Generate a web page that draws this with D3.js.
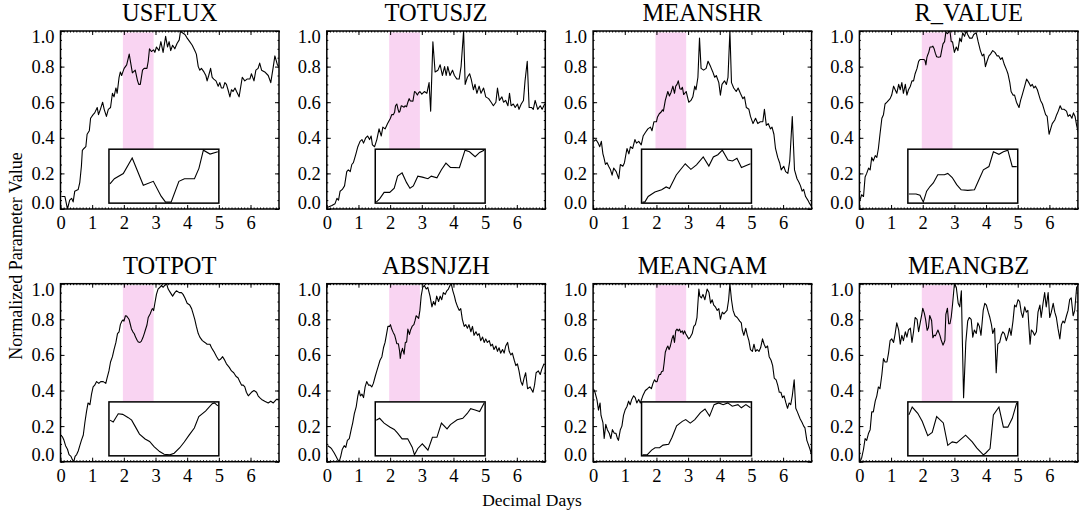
<!DOCTYPE html>
<html><head><meta charset="utf-8">
<script src="https://cdn.jsdelivr.net/npm/d3@7"></script>
<style>
body{margin:0;background:#fff}
svg{display:block}
text{font-family:"Liberation Serif","Times New Roman",Times,serif;fill:#000}
</style>
</head><body>
<script>
// ---------------- DATA ----------------
const parameters = ["USFLUX","TOTUSJZ","MEANSHR","R_VALUE","TOTPOT","ABSNJZH","MEANGAM","MEANGBZ"];
const xTicks = [0,1,2,3,4,5,6];
const yTicks = [0,0.2,0.4,0.6,0.8,1.0];
const xDomain = [0, 6.9];
const yDomain = [0, 1];
const shadeWindow = [1.97, 2.94];
const xLabel = "Decimal Days";
const yLabel = "Normalized Parameter Value";

// [decimal day, normalized value]
const usflux = [[0.03,0.07],[0.14,0.07],[0.22,0.0],[0.29,0.05],[0.35,0.06],[0.40,0.04],[0.45,0.10],[0.56,0.11],[0.61,0.15],[0.66,0.24],[0.69,0.33],[0.74,0.34],[0.80,0.35],[0.84,0.42],[0.91,0.44],[0.95,0.51],[1.03,0.53],[1.08,0.54],[1.16,0.57],[1.20,0.53],[1.26,0.56],[1.33,0.60],[1.38,0.56],[1.45,0.52],[1.51,0.56],[1.58,0.57],[1.64,0.65],[1.69,0.63],[1.75,0.68],[1.79,0.65],[1.85,0.74],[1.89,0.77],[1.93,0.75],
[1.97,0.77],[2.01,0.79],[2.09,0.81],[2.17,0.87],[2.27,0.765],[2.36,0.78],[2.43,0.723],[2.47,0.70],[2.52,0.70],[2.59,0.78],[2.64,0.79],[2.73,0.79],[2.77,0.83],[2.81,0.90],[2.87,0.885],[2.94,0.894],
[2.98,0.88],[3.03,0.91],[3.11,0.89],[3.17,0.94],[3.24,0.88],[3.32,0.97],[3.38,0.91],[3.43,0.94],[3.48,0.89],[3.54,0.92],[3.61,0.90],[3.68,0.93],[3.75,0.95],[3.79,1.00],[3.85,0.99],[3.93,0.98],[4.00,0.96],[4.08,0.94],[4.16,0.92],[4.24,0.89],[4.29,0.87],[4.35,0.80],[4.40,0.78],[4.45,0.79],[4.53,0.77],[4.59,0.75],[4.63,0.72],[4.68,0.75],[4.74,0.79],[4.79,0.74],[4.84,0.73],[4.91,0.72],[4.98,0.69],[5.03,0.71],[5.08,0.68],[5.14,0.68],[5.19,0.71],[5.24,0.70],[5.29,0.67],[5.35,0.63],[5.40,0.67],[5.45,0.66],[5.51,0.68],[5.56,0.66],[5.64,0.63],[5.74,0.74],[5.82,0.72],[5.89,0.73],[5.98,0.73],[6.03,0.76],[6.11,0.72],[6.17,0.78],[6.24,0.79],[6.29,0.82],[6.35,0.78],[6.45,0.77],[6.56,0.75],[6.64,0.71],[6.72,0.80],[6.77,0.86],[6.85,0.81],[6.90,0.80]];

const totusjz = [[0.03,0.01],[0.16,0.02],[0.26,0.03],[0.32,0.06],[0.37,0.05],[0.42,0.10],[0.49,0.11],[0.56,0.13],[0.63,0.21],[0.68,0.22],[0.74,0.21],[0.79,0.25],[0.84,0.26],[0.92,0.31],[0.98,0.35],[1.05,0.38],[1.11,0.39],[1.16,0.37],[1.23,0.40],[1.29,0.41],[1.35,0.39],[1.40,0.41],[1.44,0.36],[1.51,0.35],[1.58,0.39],[1.65,0.45],[1.72,0.41],[1.77,0.46],[1.84,0.45],[1.92,0.48],
[1.98,0.50],[2.01,0.51],[2.05,0.53],[2.10,0.53],[2.14,0.543],[2.17,0.58],[2.21,0.59],[2.25,0.56],[2.28,0.543],[2.31,0.55],[2.35,0.58],[2.39,0.577],[2.44,0.572],[2.47,0.58],[2.52,0.575],[2.56,0.60],[2.60,0.62],[2.64,0.607],[2.72,0.606],[2.77,0.66],[2.81,0.655],[2.86,0.64],[2.90,0.653],[2.94,0.66],
[3.00,0.645],[3.08,0.66],[3.16,0.65],[3.23,0.71],[3.28,0.55],[3.35,0.94],[3.42,0.77],[3.51,0.78],[3.58,0.81],[3.65,0.75],[3.72,0.80],[3.77,0.75],[3.82,0.80],[3.89,0.75],[3.97,0.78],[4.03,0.75],[4.11,0.73],[4.18,0.73],[4.24,0.80],[4.32,1.00],[4.37,0.70],[4.44,0.74],[4.51,0.76],[4.56,0.73],[4.63,0.67],[4.68,0.70],[4.74,0.65],[4.81,0.69],[4.87,0.65],[4.95,0.68],[5.02,0.63],[5.11,0.62],[5.19,0.60],[5.26,0.58],[5.34,0.60],[5.39,0.68],[5.45,0.61],[5.53,0.63],[5.58,0.60],[5.65,0.61],[5.72,0.58],[5.77,0.65],[5.82,0.58],[5.89,0.59],[5.95,0.57],[6.02,0.59],[6.07,0.56],[6.14,0.59],[6.21,0.61],[6.26,0.72],[6.33,0.83],[6.39,0.57],[6.47,0.57],[6.52,0.56],[6.58,0.61],[6.66,0.56],[6.74,0.58],[6.80,0.56],[6.88,0.59]];

const meanshr = [[0.02,0.38],[0.09,0.39],[0.16,0.37],[0.21,0.35],[0.26,0.38],[0.31,0.31],[0.34,0.29],[0.39,0.25],[0.44,0.26],[0.49,0.24],[0.55,0.22],[0.60,0.19],[0.65,0.23],[0.73,0.21],[0.81,0.17],[0.86,0.25],[0.94,0.24],[0.99,0.26],[1.07,0.34],[1.13,0.31],[1.18,0.35],[1.25,0.34],[1.32,0.39],[1.37,0.37],[1.44,0.38],[1.52,0.36],[1.58,0.41],[1.65,0.43],[1.73,0.45],[1.81,0.46],[1.86,0.44],[1.92,0.49],
[1.98,0.49],[2.00,0.49],[2.03,0.515],[2.09,0.535],[2.15,0.545],[2.19,0.557],[2.22,0.55],[2.28,0.61],[2.36,0.66],[2.41,0.635],[2.46,0.655],[2.52,0.69],[2.57,0.65],[2.61,0.69],[2.65,0.70],[2.69,0.72],[2.74,0.676],[2.78,0.672],[2.82,0.684],[2.86,0.643],[2.94,0.66],
[3.02,0.60],[3.09,0.61],[3.15,0.63],[3.21,0.69],[3.25,0.67],[3.31,0.74],[3.36,0.96],[3.41,0.79],[3.49,0.78],[3.57,0.79],[3.63,0.83],[3.71,0.80],[3.78,0.77],[3.84,0.74],[3.89,0.75],[3.97,0.71],[4.02,0.64],[4.07,0.70],[4.15,0.72],[4.21,0.70],[4.26,0.74],[4.32,1.00],[4.37,0.71],[4.44,0.68],[4.52,0.66],[4.58,0.68],[4.65,0.65],[4.73,0.62],[4.78,0.63],[4.84,0.57],[4.92,0.56],[4.97,0.52],[5.05,0.48],[5.13,0.51],[5.20,0.48],[5.28,0.49],[5.36,0.49],[5.41,0.56],[5.47,0.47],[5.53,0.48],[5.60,0.45],[5.65,0.46],[5.71,0.42],[5.76,0.34],[5.83,0.29],[5.89,0.26],[5.94,0.22],[6.02,0.24],[6.08,0.21],[6.15,0.20],[6.21,0.27],[6.29,0.52],[6.36,0.22],[6.44,0.17],[6.50,0.15],[6.55,0.13],[6.60,0.10],[6.65,0.11],[6.71,0.07],[6.78,0.05],[6.84,0.03],[6.90,0.015]];

const rValue = [[0.02,0.05],[0.07,0.08],[0.13,0.07],[0.18,0.18],[0.23,0.20],[0.29,0.23],[0.34,0.22],[0.39,0.29],[0.44,0.27],[0.50,0.30],[0.55,0.29],[0.60,0.34],[0.65,0.42],[0.71,0.51],[0.76,0.53],[0.81,0.59],[0.87,0.60],[0.92,0.61],[0.97,0.62],[1.02,0.64],[1.08,0.69],[1.13,0.67],[1.18,0.65],[1.24,0.70],[1.29,0.67],[1.34,0.71],[1.39,0.65],[1.45,0.70],[1.50,0.64],[1.55,0.67],[1.61,0.69],[1.66,0.72],[1.71,0.72],[1.76,0.76],[1.82,0.79],[1.87,0.83],[1.92,0.84],
[1.97,0.84],[2.035,0.84],[2.07,0.835],[2.10,0.81],[2.13,0.85],[2.16,0.867],[2.19,0.88],[2.23,0.91],[2.29,0.91],[2.32,0.915],[2.36,0.90],[2.40,0.874],[2.44,0.855],[2.50,0.853],[2.56,0.855],[2.60,0.892],[2.64,0.928],[2.69,0.94],[2.73,0.994],[2.78,0.985],[2.82,0.994],[2.86,1.0],[2.90,0.94],[2.94,0.94],
[3.00,0.88],[3.06,0.91],[3.11,0.89],[3.17,0.96],[3.22,0.94],[3.26,0.99],[3.32,0.97],[3.37,1.0],[3.42,0.98],[3.48,0.96],[3.56,0.96],[3.61,0.98],[3.69,0.99],[3.75,0.94],[3.82,0.89],[3.88,0.86],[3.93,0.87],[3.98,0.80],[4.03,0.83],[4.09,0.86],[4.14,0.87],[4.21,0.89],[4.28,0.88],[4.35,0.86],[4.40,0.86],[4.46,0.84],[4.51,0.85],[4.58,0.81],[4.65,0.78],[4.69,0.76],[4.75,0.71],[4.79,0.66],[4.85,0.64],[4.90,0.64],[4.96,0.60],[5.04,0.57],[5.09,0.61],[5.14,0.64],[5.22,0.69],[5.28,0.73],[5.35,0.71],[5.41,0.69],[5.46,0.70],[5.51,0.68],[5.56,0.69],[5.62,0.67],[5.67,0.64],[5.72,0.61],[5.78,0.59],[5.83,0.56],[5.88,0.53],[5.93,0.52],[5.99,0.42],[6.04,0.45],[6.09,0.48],[6.17,0.50],[6.23,0.53],[6.28,0.55],[6.34,0.58],[6.39,0.56],[6.46,0.56],[6.54,0.55],[6.59,0.52],[6.65,0.53],[6.71,0.51],[6.76,0.54],[6.81,0.52],[6.86,0.47],[6.94,0.41]];

const totpot = [[0.01,0.15],[0.06,0.14],[0.11,0.12],[0.16,0.09],[0.22,0.07],[0.27,0.04],[0.33,0.03],[0.38,0.01],[0.42,0.0],[0.46,0.03],[0.51,0.04],[0.56,0.06],[0.61,0.09],[0.66,0.12],[0.72,0.15],[0.77,0.22],[0.82,0.28],[0.87,0.33],[0.93,0.32],[0.98,0.38],[1.03,0.42],[1.08,0.43],[1.14,0.45],[1.21,0.44],[1.27,0.45],[1.35,0.45],[1.43,0.44],[1.47,0.47],[1.53,0.51],[1.58,0.56],[1.64,0.59],[1.69,0.63],[1.75,0.67],[1.80,0.72],[1.85,0.73],[1.89,0.77],[1.94,0.79],
[1.976,0.797],[2.005,0.79],[2.05,0.82],[2.09,0.818],[2.14,0.806],[2.17,0.797],[2.20,0.775],[2.24,0.746],[2.29,0.728],[2.33,0.719],[2.37,0.70],[2.42,0.682],[2.46,0.672],[2.51,0.67],[2.55,0.676],[2.60,0.696],[2.64,0.717],[2.68,0.74],[2.73,0.768],[2.77,0.81],[2.83,0.83],[2.89,0.857],[2.91,0.86],[2.94,0.849],
[2.98,0.89],[3.03,0.94],[3.08,0.97],[3.14,0.98],[3.19,0.99],[3.24,0.98],[3.29,0.99],[3.35,1.0],[3.40,0.97],[3.47,0.95],[3.54,0.93],[3.61,0.95],[3.66,0.96],[3.75,0.95],[3.82,0.95],[3.87,0.94],[3.93,0.92],[4.0,0.89],[4.08,0.88],[4.14,0.86],[4.19,0.83],[4.24,0.80],[4.29,0.76],[4.35,0.72],[4.40,0.70],[4.48,0.68],[4.56,0.67],[4.63,0.66],[4.72,0.66],[4.77,0.64],[4.84,0.62],[4.93,0.59],[5.0,0.57],[5.05,0.575],[5.12,0.59],[5.17,0.575],[5.24,0.55],[5.33,0.53],[5.40,0.51],[5.47,0.50],[5.54,0.48],[5.61,0.47],[5.66,0.45],[5.72,0.43],[5.77,0.43],[5.82,0.42],[5.87,0.39],[5.93,0.37],[5.98,0.38],[6.03,0.39],[6.11,0.40],[6.19,0.39],[6.24,0.37],[6.29,0.36],[6.35,0.35],[6.45,0.34],[6.56,0.33],[6.64,0.34],[6.72,0.33],[6.82,0.35],[6.89,0.35]];

const absnjzh = [[0.03,0.09],[0.11,0.08],[0.16,0.07],[0.23,0.05],[0.29,0.03],[0.35,0.01],[0.39,0.0],[0.44,0.03],[0.49,0.07],[0.55,0.09],[0.60,0.08],[0.65,0.12],[0.71,0.13],[0.77,0.18],[0.82,0.22],[0.87,0.27],[0.93,0.31],[0.98,0.37],[1.02,0.40],[1.06,0.37],[1.11,0.38],[1.16,0.36],[1.21,0.42],[1.26,0.45],[1.32,0.43],[1.37,0.43],[1.42,0.42],[1.47,0.44],[1.53,0.48],[1.58,0.51],[1.63,0.54],[1.68,0.57],[1.74,0.59],[1.79,0.64],[1.84,0.67],[1.89,0.72],[1.93,0.76],
[1.98,0.76],[2.01,0.77],[2.05,0.745],[2.10,0.725],[2.14,0.712],[2.17,0.693],[2.21,0.663],[2.26,0.663],[2.30,0.62],[2.32,0.58],[2.35,0.613],[2.39,0.637],[2.44,0.604],[2.48,0.671],[2.52,0.671],[2.56,0.745],[2.61,0.715],[2.64,0.737],[2.70,0.762],[2.75,0.77],[2.79,0.795],[2.82,0.82],[2.86,0.813],[2.90,0.805],[2.94,0.85],
[2.98,0.93],[3.03,0.98],[3.08,0.99],[3.14,0.97],[3.19,0.98],[3.26,0.93],[3.32,0.87],[3.37,0.90],[3.42,0.88],[3.47,0.93],[3.53,0.90],[3.58,0.93],[3.63,0.91],[3.68,0.95],[3.74,0.94],[3.79,0.96],[3.84,0.97],[3.89,0.99],[3.93,1.0],[3.98,0.96],[4.03,0.93],[4.07,0.90],[4.13,0.87],[4.18,0.85],[4.23,0.86],[4.28,0.80],[4.34,0.76],[4.39,0.77],[4.44,0.75],[4.49,0.77],[4.55,0.73],[4.60,0.76],[4.65,0.71],[4.71,0.73],[4.76,0.71],[4.81,0.72],[4.86,0.68],[4.92,0.70],[4.97,0.67],[5.02,0.69],[5.07,0.67],[5.13,0.68],[5.18,0.65],[5.23,0.66],[5.28,0.63],[5.34,0.65],[5.39,0.62],[5.44,0.64],[5.49,0.61],[5.55,0.63],[5.60,0.61],[5.65,0.65],[5.71,0.67],[5.76,0.62],[5.81,0.60],[5.86,0.61],[5.92,0.57],[5.97,0.54],[6.02,0.55],[6.07,0.51],[6.13,0.45],[6.18,0.43],[6.23,0.47],[6.28,0.50],[6.34,0.41],[6.42,0.42],[6.51,0.39],[6.56,0.43],[6.61,0.50],[6.68,0.51],[6.74,0.49],[6.79,0.52],[6.86,0.55]];

const meangam = [[0.01,0.41],[0.06,0.39],[0.12,0.35],[0.17,0.29],[0.22,0.33],[0.25,0.26],[0.31,0.22],[0.35,0.13],[0.40,0.21],[0.45,0.18],[0.51,0.16],[0.56,0.13],[0.61,0.18],[0.67,0.16],[0.72,0.16],[0.77,0.13],[0.80,0.12],[0.86,0.18],[0.91,0.20],[0.96,0.26],[1.01,0.29],[1.07,0.31],[1.12,0.34],[1.17,0.32],[1.22,0.35],[1.28,0.37],[1.33,0.36],[1.38,0.33],[1.44,0.35],[1.49,0.33],[1.57,0.37],[1.65,0.40],[1.72,0.41],[1.78,0.42],[1.84,0.41],[1.89,0.44],[1.94,0.46],
[1.98,0.45],[2.02,0.45],[2.06,0.477],[2.09,0.49],[2.13,0.49],[2.16,0.505],[2.21,0.51],[2.24,0.55],[2.28,0.615],[2.33,0.64],[2.36,0.65],[2.40,0.63],[2.44,0.65],[2.49,0.69],[2.53,0.71],[2.57,0.67],[2.61,0.735],[2.65,0.745],[2.69,0.735],[2.73,0.745],[2.77,0.726],[2.82,0.735],[2.85,0.717],[2.89,0.735],[2.93,0.717],
[3.02,0.69],[3.07,0.70],[3.13,0.72],[3.18,0.76],[3.23,0.77],[3.28,0.81],[3.34,0.97],[3.37,0.93],[3.42,0.92],[3.47,0.94],[3.53,0.91],[3.60,0.97],[3.66,0.95],[3.71,0.89],[3.76,0.91],[3.81,0.88],[3.86,0.87],[3.92,0.85],[3.97,0.86],[4.02,0.80],[4.08,0.84],[4.13,0.83],[4.18,0.84],[4.23,0.85],[4.28,0.91],[4.32,1.0],[4.37,0.91],[4.42,0.85],[4.48,0.82],[4.55,0.81],[4.63,0.79],[4.68,0.78],[4.71,0.74],[4.76,0.71],[4.82,0.75],[4.87,0.71],[4.92,0.68],[4.97,0.63],[5.03,0.62],[5.08,0.66],[5.13,0.62],[5.18,0.63],[5.24,0.62],[5.29,0.64],[5.35,0.69],[5.40,0.66],[5.45,0.64],[5.51,0.65],[5.56,0.59],[5.62,0.57],[5.67,0.54],[5.72,0.47],[5.78,0.46],[5.83,0.43],[5.88,0.39],[5.93,0.39],[5.98,0.36],[6.03,0.37],[6.09,0.33],[6.14,0.30],[6.19,0.33],[6.24,0.32],[6.29,0.37],[6.35,0.46],[6.40,0.30],[6.45,0.28],[6.54,0.24],[6.60,0.22],[6.65,0.20],[6.69,0.19],[6.75,0.12],[6.79,0.10],[6.85,0.07],[6.93,0.02]];

const meangbz = [[0.02,0.0],[0.07,0.02],[0.13,0.07],[0.18,0.13],[0.23,0.12],[0.29,0.16],[0.34,0.18],[0.39,0.28],[0.44,0.28],[0.50,0.34],[0.55,0.37],[0.60,0.42],[0.65,0.41],[0.71,0.49],[0.76,0.58],[0.81,0.56],[0.87,0.56],[0.92,0.61],[0.97,0.68],[1.02,0.69],[1.08,0.67],[1.13,0.72],[1.18,0.78],[1.24,0.74],[1.29,0.66],[1.34,0.71],[1.39,0.68],[1.45,0.73],[1.50,0.70],[1.55,0.74],[1.61,0.75],[1.66,0.67],[1.71,0.73],[1.76,0.81],[1.82,0.80],[1.87,0.73],[1.92,0.78],
[1.97,0.828],[2.0,0.862],[2.05,0.835],[2.09,0.80],[2.14,0.738],[2.18,0.752],[2.22,0.821],[2.28,0.793],[2.32,0.696],[2.36,0.711],[2.40,0.707],[2.48,0.74],[2.54,0.711],[2.58,0.685],[2.64,0.655],[2.66,0.662],[2.70,0.682],[2.73,0.828],[2.78,0.862],[2.82,0.775],[2.86,0.775],[2.90,0.813],[2.94,0.88],
[3.0,1.0],[3.06,0.98],[3.12,0.89],[3.17,0.87],[3.22,0.96],[3.25,0.69],[3.29,0.36],[3.36,0.67],[3.42,0.79],[3.47,0.81],[3.53,0.80],[3.58,0.70],[3.63,0.74],[3.69,0.72],[3.74,0.78],[3.79,0.76],[3.84,0.71],[3.91,0.85],[3.96,0.89],[4.01,0.88],[4.07,0.84],[4.12,0.81],[4.17,0.77],[4.21,0.72],[4.27,0.75],[4.32,0.50],[4.37,0.66],[4.43,0.67],[4.48,0.71],[4.53,0.73],[4.58,0.72],[4.64,0.68],[4.69,0.71],[4.74,0.75],[4.79,0.71],[4.85,0.79],[4.90,0.88],[4.95,0.87],[5.01,0.91],[5.06,0.90],[5.11,0.84],[5.16,0.81],[5.22,0.87],[5.27,0.84],[5.32,0.85],[5.39,0.66],[5.43,0.74],[5.48,0.73],[5.53,0.71],[5.59,0.73],[5.64,0.84],[5.70,0.88],[5.74,0.81],[5.80,0.89],[5.85,0.95],[5.90,0.87],[5.96,0.95],[6.01,0.81],[6.06,0.84],[6.12,0.89],[6.17,0.84],[6.22,0.81],[6.27,0.75],[6.33,0.69],[6.38,0.77],[6.43,0.79],[6.48,0.78],[6.54,0.82],[6.59,0.85],[6.64,0.91],[6.69,0.92],[6.75,0.82],[6.80,0.85],[6.86,0.98],[6.92,0.99]];

const seriesList = [usflux, totusjz, meanshr, rValue, totpot, absnjzh, meangam, meangbz];

// ---------------- LAYOUT ----------------
const W = 1079, H = 512;
const colLeft0 = 60.5, colStep = 266.3, PW = 218.5, PH = 178;
const rowTops = [31, 283.7];
const insetBox = {x0: 1.53, x1: 5.0, y0: 0.033, y1: 0.336}; // in main-axis units
const minorX = d3.range(0, 6.901, 0.1);
const minorY = d3.range(0, 1.001, 0.05);

const svg = d3.select("body").append("svg").attr("width", W).attr("height", H);
const defs = svg.append("defs");

function styleAxis(sel){
  sel.select(".domain").remove();
  sel.selectAll(".tick line").attr("stroke", "#000").attr("stroke-width", 1);
  sel.selectAll("text").attr("font-family", '"Liberation Serif","Times New Roman",serif')
     .attr("font-size", 18.5).attr("fill", "#000");
  sel.attr("font-family", null).attr("font-size", null);
}

parameters.forEach((name, i) => {
  const col = i % 4, row = Math.floor(i / 4);
  const L = colLeft0 + col * colStep, T = rowTops[row];
  const data = seriesList[i];
  const x = d3.scaleLinear().domain(xDomain).range([L, L + PW]);
  const y = d3.scaleLinear().domain(yDomain).range([T + PH, T]);
  const g = svg.append("g");

  defs.append("clipPath").attr("id", "clip" + i)
    .append("rect").attr("x", L).attr("y", T).attr("width", PW).attr("height", PH);

  const ix0 = x(insetBox.x0), ix1 = x(insetBox.x1);
  const iyT = y(insetBox.y1), iyB = y(insetBox.y0);

  // shaded window
  g.append("rect")
    .attr("x", x(shadeWindow[0])).attr("width", x(shadeWindow[1]) - x(shadeWindow[0]))
    .attr("y", T + 1.5).attr("height", iyT - T - 1.5)
    .attr("fill", "#f9d4f2");

  // main line
  g.append("path").datum(data)
    .attr("clip-path", `url(#clip${i})`)
    .attr("fill", "none").attr("stroke", "#000").attr("stroke-width", 1.1)
    .attr("stroke-linejoin", "round")
    .attr("d", d3.line().x(d => x(d[0])).y(d => y(d[1])));

  // inset
  g.append("rect").attr("x", ix0).attr("y", iyT)
    .attr("width", ix1 - ix0).attr("height", iyB - iyT)
    .attr("fill", "#fff").attr("stroke", "#000").attr("stroke-width", 1.5);
  const win = data.filter(d => d[0] >= shadeWindow[0] - 0.01 && d[0] <= shadeWindow[1] + 0.005);
  const sx = d3.scaleLinear().domain(d3.extent(win, d => d[0])).range([ix0 + 1, ix1 - 1]);
  const sy = d3.scaleLinear().domain(d3.extent(win, d => d[1])).range([iyB - 1, iyT + 1]);
  g.append("path").datum(win)
    .attr("fill", "none").attr("stroke", "#000").attr("stroke-width", 1.1)
    .attr("d", d3.line().x(d => sx(d[0])).y(d => sy(d[1])));

  // axes (inward ticks on all four sides)
  g.append("g").attr("transform", `translate(0,${T + PH})`)
    .call(d3.axisBottom(x).tickValues(minorX).tickSize(-1.5).tickFormat(""))
    .call(styleAxis);
  g.append("g").attr("transform", `translate(0,${T})`)
    .call(d3.axisTop(x).tickValues(minorX).tickSize(-1.5).tickFormat(""))
    .call(styleAxis);
  g.append("g").attr("transform", `translate(${L},0)`)
    .call(d3.axisLeft(y).tickValues(minorY).tickSize(-1.5).tickFormat(""))
    .call(styleAxis);
  g.append("g").attr("transform", `translate(${L + PW},0)`)
    .call(d3.axisRight(y).tickValues(minorY).tickSize(-1.5).tickFormat(""))
    .call(styleAxis);

  g.append("g").attr("transform", `translate(0,${T + PH})`)
    .call(d3.axisBottom(x).tickValues(xTicks).tickSize(-4).tickPadding(7).tickFormat(d3.format("d")))
    .call(styleAxis);
  g.append("g").attr("transform", `translate(0,${T})`)
    .call(d3.axisTop(x).tickValues(xTicks).tickSize(-4).tickFormat(""))
    .call(styleAxis);
  const yl = g.append("g").attr("transform", `translate(${L},0)`)
    .call(d3.axisLeft(y).tickValues(yTicks).tickSize(-4).tickPadding(6).tickFormat(d3.format(".1f")))
    .call(styleAxis);
  yl.selectAll(".tick text").attr("dy", d => d === 0 ? "-0.05em" : (d === 1 ? "0.62em" : "0.32em"));
  g.append("g").attr("transform", `translate(${L + PW},0)`)
    .call(d3.axisRight(y).tickValues(yTicks).tickSize(-4).tickFormat(""))
    .call(styleAxis);

  // frame
  g.append("rect").attr("x", L).attr("y", T).attr("width", PW).attr("height", PH)
    .attr("fill", "none").attr("stroke", "#000").attr("stroke-width", 1.5);

  // title
  g.append("text").attr("x", L + PW / 2).attr("y", T - 10)
    .attr("text-anchor", "middle").attr("font-size", 24.5).text(name);
});

svg.append("text").attr("x", 532).attr("y", 506).attr("text-anchor", "middle")
  .attr("font-size", 17.5).text(xLabel);
svg.append("text").attr("transform", "translate(22,256) rotate(-90)")
  .attr("text-anchor", "middle").attr("font-size", 18).text(yLabel);
</script>
</body></html>
